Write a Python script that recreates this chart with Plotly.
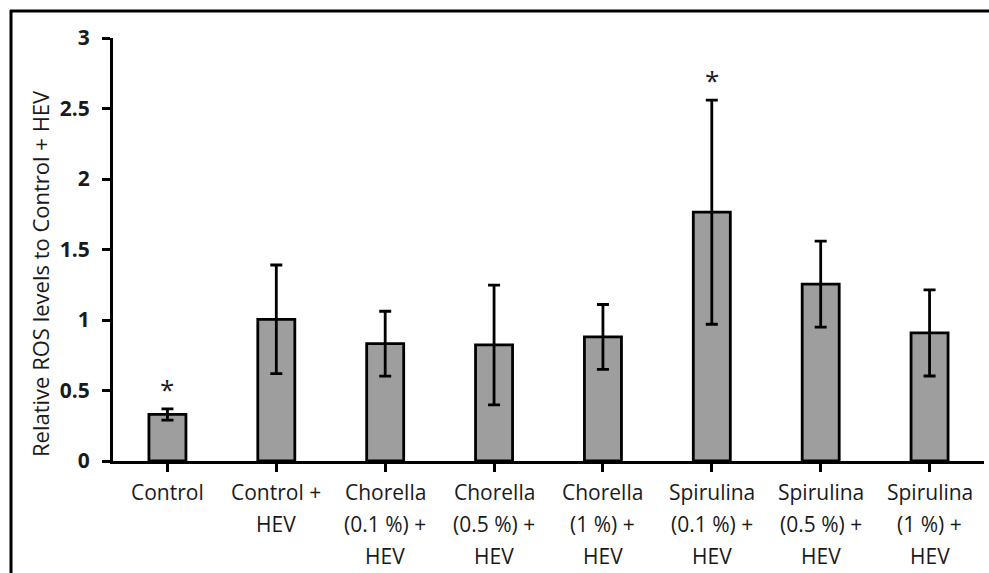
import plotly.graph_objects as go

categories = ["Control", "Control +<br>HEV", "Chorella<br>(0.1 %) +<br>HEV", "Chorella<br>(0.5 %) +<br>HEV",
              "Chorella<br>(1 %) +<br>HEV", "Spirulina<br>(0.1 %) +<br>HEV", "Spirulina<br>(0.5 %) +<br>HEV",
              "Spirulina<br>(1 %) +<br>HEV"]
values = [0.33, 1.005, 0.832, 0.823, 0.88, 1.765, 1.255, 0.908]
errors = [0.04, 0.385, 0.23, 0.425, 0.23, 0.795, 0.305, 0.305]
significant = [True, False, False, False, False, True, False, False]
y_ticks = [0, 0.5, 1, 1.5, 2, 2.5, 3]
y_tick_labels = ["0", "0.5", "1", "1.5", "2", "2.5", "3"]
y_title = "Relative ROS levels to Control + HEV"

W, H = 989, 573
L, R, T, B = 113, 5, 38, 112
pw, ph = W - L - R, H - T - B

def px(x):
    return (x - L) / pw

def py(y):
    return (H - B - y) / ph

fig = go.Figure(go.Bar(
    x=list(range(len(categories))), y=values,
    width=0.34,
    marker=dict(color="#9e9e9e", line=dict(color="black", width=2.8)),
    error_y=dict(type="data", array=errors, visible=True, color="black", thickness=2.8, width=6),
))

annotations = []
for i, cat in enumerate(categories):
    for j, line in enumerate(cat.split("<br>")):
        annotations.append(dict(x=i, y=0, xref="x", yref="y", text=line, showarrow=False,
                                yshift=-(31 + 32 * j), yanchor="middle",
                                font=dict(family="Open Sans", size=21, color="#1a1a1a")))
    if significant[i]:
        annotations.append(dict(x=i, y=values[i] + errors[i], xref="x", yref="y", text="*",
                                showarrow=False, yanchor="bottom", yshift=0,
                                font=dict(family="Open Sans", size=26, color="#1a1a1a")))

annotations.append(dict(x=px(40), y=py(274), xref="paper", yref="paper", text=y_title,
                        textangle=-90, showarrow=False, xanchor="center", yanchor="middle",
                        font=dict(family="Open Sans", size=22, color="#1a1a1a")))

shapes = [
    dict(type="line", xref="paper", yref="paper", x0=px(10), x1=px(995), y0=py(11), y1=py(11),
         line=dict(color="black", width=3)),
    dict(type="line", xref="paper", yref="paper", x0=px(11), x1=px(11), y0=py(10), y1=py(580),
         line=dict(color="black", width=3)),
]

fig.update_layout(
    width=W, height=H,
    margin=dict(l=L, r=R, t=T, b=B),
    paper_bgcolor="white", plot_bgcolor="white",
    showlegend=False,
    annotations=annotations,
    shapes=shapes,
    xaxis=dict(range=[-0.5, len(categories) - 0.5], tickmode="array",
               tickvals=list(range(len(categories))), ticktext=[""] * len(categories),
               tickson="boundaries", ticks="outside", ticklen=8, tickwidth=3, tickcolor="black",
               showline=True, linecolor="black", linewidth=3, showgrid=False, zeroline=False,
               fixedrange=True),
    yaxis=dict(range=[0, 3], tickvals=y_ticks, ticktext=y_tick_labels,
               ticks="outside", ticklen=8, tickwidth=3, tickcolor="black",
               showline=True, linecolor="black", linewidth=3, showgrid=False, zeroline=False,
               tickfont=dict(family="Open Sans", size=21, color="#1a1a1a", weight="bold"),
               ticklabelstandoff=8),
)

fig.write_html("out.html")
